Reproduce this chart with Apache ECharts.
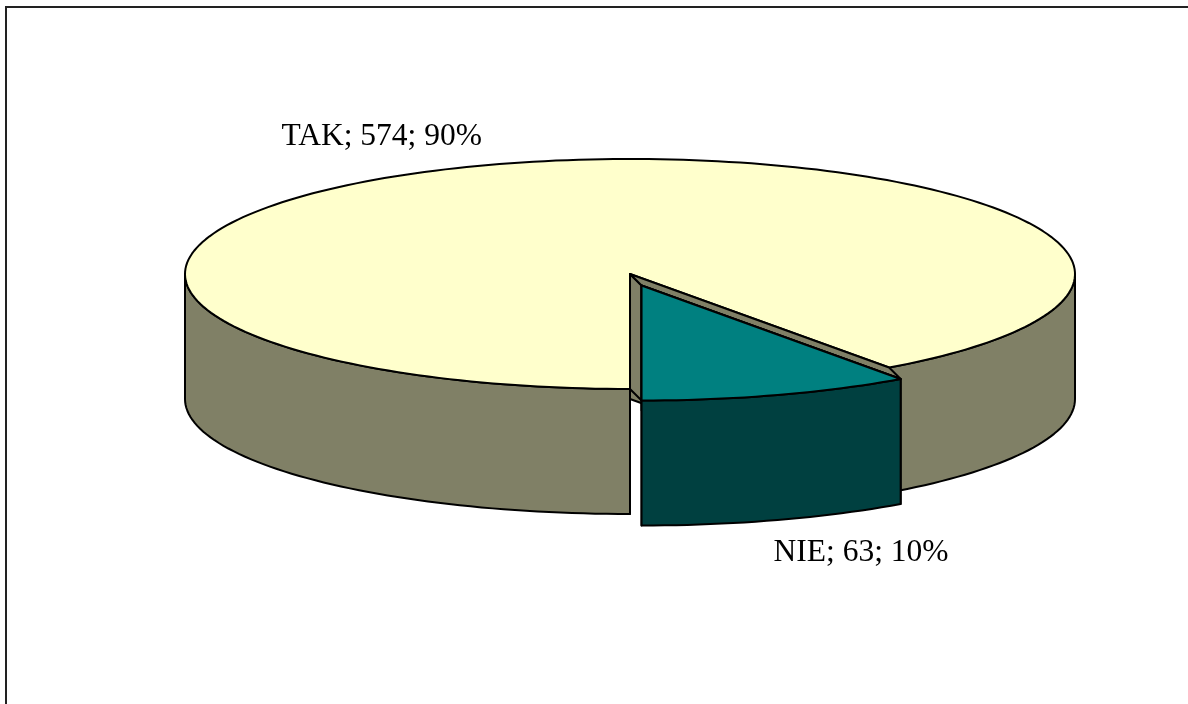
<!DOCTYPE html>
<html><head><meta charset="utf-8">
<script src="https://cdn.jsdelivr.net/npm/echarts@6/dist/echarts.min.js"></script>
<style>html,body{margin:0;padding:0;background:#fff}#c{width:1188px;height:704px}</style>
</head><body><div id="c"></div>
<script>
const categories = ['TAK', 'NIE'];
const values = [574, 63];
const exploded = [false, true];
const topColors = ['#FFFFCC', '#008080'];
const sideColors = ['#808066', '#004040'];

const total = values.reduce((a, b) => a + b, 0);
const slices = [];
let acc = 0;
values.forEach(v => { const a0 = acc / total * 360; acc += v; slices.push({ a0, a1: acc / total * 360 }); });

const L = { cx: 630, cy: 274, rx: 445, ry: 115, depth: 125, explodeX: 0.085, explodeY: 0.105 };
function pt(theta, ox, oy, dz) {
  const t = theta * Math.PI / 180;
  return [L.cx + ox - L.rx * Math.sin(t), L.cy + oy + L.ry * Math.cos(t) + (dz || 0)];
}
function arc(a0, a1, ox, oy, dz) {
  const n = Math.max(2, Math.ceil(Math.abs(a1 - a0) / 1.5));
  const out = [];
  for (let k = 0; k <= n; k++) out.push(pt(a0 + (a1 - a0) * k / n, ox, oy, dz));
  return out;
}
function offsetOf(i) {
  if (!exploded[i]) return [0, 0];
  const m = (slices[i].a0 + slices[i].a1) / 2 * Math.PI / 180;
  return [-L.rx * L.explodeX * Math.sin(m), L.ry * L.explodeY * Math.cos(m)];
}
function visibleRanges(a0, a1) {
  const r = [];
  for (let k = -1; k <= 2; k++) {
    const lo = Math.max(a0, -90 + 360 * k), hi = Math.min(a1, 90 + 360 * k);
    if (hi > lo) r.push([lo, hi]);
  }
  return r;
}
const stroke = { stroke: '#000', lineWidth: 2, lineJoin: 'round' };
const n = values.length;

function renderItem(params, api) {
  const i = params.dataIndex;
  const s = slices[i];
  const [ox, oy] = offsetOf(i);
  const C = [L.cx + ox, L.cy + oy];
  const children = [];
  // radial cut walls (drawn first, behind the outer wall)
  const edges = [[s.a0, (i - 1 + n) % n], [s.a1, (i + 1) % n]];
  edges.forEach(([a, nb]) => {
    const P = pt(a, ox, oy, 0);
    children.push({ type: 'polygon', shape: { points: [C, P, [P[0], P[1] + L.depth], [C[0], C[1] + L.depth]] },
      style: Object.assign({ fill: sideColors[i] }, stroke) });
  });
  // outer side walls (front visible part)
  visibleRanges(s.a0, s.a1).forEach(([lo, hi]) => {
    const pts = arc(lo, hi, ox, oy, 0).concat(arc(hi, lo, ox, oy, L.depth));
    children.push({ type: 'polygon', shape: { points: pts }, style: Object.assign({ fill: sideColors[i] }, stroke) });
  });
  // top face
  const topPts = [C].concat(arc(s.a0, s.a1, ox, oy, 0));
  children.push({ type: 'polygon', shape: { points: topPts }, style: Object.assign({ fill: topColors[i] }, stroke) });
  // gaps towards exploded neighbours
  if (!exploded[i]) {
    edges.forEach(([a, nb]) => {
      if (!exploded[nb]) return;
      const o = offsetOf(nb);
      const P = pt(a, 0, 0, 0);
      children.push({ type: 'polygon', shape: { points: [C, P, [P[0] + o[0], P[1] + o[1]], [C[0] + o[0], C[1] + o[1]]] },
        style: Object.assign({ fill: sideColors[i] }, stroke) });
    });
  }
  // label
  const m = (s.a0 + s.a1) / 2;
  const M = pt(m, ox, oy, 0);
  const front = Math.cos(m * Math.PI / 180) > 0;
  const pct = Math.round(values[i] / total * 100);
  const txt = categories[i] + '; ' + values[i] + '; ' + pct + '%';
  const lx = front ? M[0] - 4 : M[0] - 12;
  const ly = front ? M[1] + L.depth + 17 : M[1] - 12;
  children.push({ type: 'text', style: {
    text: txt, x: lx, y: ly, fill: '#000',
    font: '31.5px "Liberation Serif", "Times New Roman", serif',
    align: front ? 'left' : 'right', verticalAlign: front ? 'top' : 'bottom',
    textAlign: front ? 'left' : 'right', textVerticalAlign: front ? 'top' : 'bottom'
  } });
  return { type: 'group', children };
}

const chart = echarts.init(document.getElementById('c'));
chart.setOption({
  animation: false,
  backgroundColor: '#fff',
  graphic: [{ type: 'rect', silent: true, shape: { x: 6, y: 7, width: 1300, height: 800 },
    style: { fill: 'none', stroke: '#222', lineWidth: 2 } }],
  series: [{
    type: 'custom', coordinateSystem: 'none', silent: true,
    data: values.map((v, i) => ({ name: categories[i], value: v })),
    renderItem
  }]
});
</script></body></html>
